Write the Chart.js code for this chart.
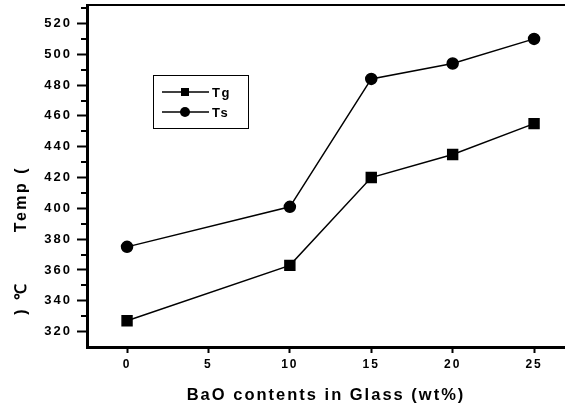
<!DOCTYPE html>
<html>
<head>
<meta charset="utf-8">
<script src="https://cdn.jsdelivr.net/npm/chart.js@4"></script>
<style>
  html, body { margin: 0; padding: 0; background: #fff; overflow: hidden; }
  #wrap { width: 565px; height: 405px; position: relative; }
  #c { display: block; }
</style>
</head>
<body>
<div id="wrap"><canvas id="c"></canvas></div>
<script>
// BaO content (wt%) and temperatures
const baoContent = [0, 10, 15, 20, 25];
const tgValues = [327, 363, 420, 435, 455];
const tsValues = [375, 401, 484, 494, 510];
const seriesLabels = ['Tg', 'Ts'];
const xTitle = 'BaO contents in Glass (wt%)';
const yTitleTop = 'Temp (';
const yTitleBottom = ') ℃';

const FONT = '"Liberation Sans", Arial, sans-serif';

// spaced-out lettering like the scanned figure
const spacing = {
  id: 'spacing',
  beforeDraw(chart) { chart.ctx.letterSpacing = '2px'; }
};

// frame top line, minor y ticks, y title, legend box
const extras = {
  id: 'extras',
  afterDraw(chart) {
    const ctx = chart.ctx;
    const a = chart.chartArea;
    const y = chart.scales.y;
    ctx.save();
    ctx.strokeStyle = '#000';

    ctx.lineWidth = 2;
    ctx.beginPath();
    ctx.moveTo(a.left, a.top);
    ctx.lineTo(a.right, a.top);
    ctx.stroke();

    for (let v = 330; v <= 530; v += 20) {
      const py = Math.round(y.getPixelForValue(v));
      ctx.beginPath();
      ctx.moveTo(a.left - 6, py);
      ctx.lineTo(a.left, py);
      ctx.stroke();
    }

    // y title
    ctx.fillStyle = '#000';
    ctx.font = 'bold 16px ' + FONT;
    ctx.letterSpacing = '2.5px';
    ctx.textBaseline = 'middle';
    ctx.textAlign = 'center';
    ctx.translate(22, 0);
    ctx.rotate(-Math.PI / 2);
    ctx.fillText(yTitleTop, -199, 0);
    ctx.fillText(yTitleBottom, -298, 0);
    ctx.setTransform(1, 0, 0, 1, 0, 0);

    // legend
    ctx.lineWidth = 1;
    ctx.strokeRect(153.5, 75.5, 95, 53);
    const rows = [92, 112];
    chart.data.datasets.forEach((ds, i) => {
      const ry = rows[i];
      ctx.lineWidth = 1.5;
      ctx.beginPath();
      ctx.moveTo(162, ry);
      ctx.lineTo(209, ry);
      ctx.stroke();
      ctx.fillStyle = '#000';
      if (ds.pointStyle === 'rect') {
        ctx.fillRect(181, ry - 4, 8, 8);
      } else {
        ctx.beginPath();
        ctx.arc(185, ry, 5, 0, Math.PI * 2);
        ctx.fill();
      }
      ctx.font = 'bold 13px ' + FONT;
      ctx.letterSpacing = '1.5px';
      ctx.textAlign = 'left';
      ctx.textBaseline = 'middle';
      ctx.fillText(ds.label, 212, ry + 1);
    });
    ctx.restore();
  }
};

new Chart(document.getElementById('c'), {
  type: 'line',
  data: {
    datasets: [
      {
        label: seriesLabels[0],
        data: baoContent.map((x, i) => ({ x: x, y: tgValues[i] })),
        borderColor: '#000',
        backgroundColor: '#000',
        borderWidth: 1.5,
        pointStyle: 'rect',
        pointRadius: 7,
        tension: 0
      },
      {
        label: seriesLabels[1],
        data: baoContent.map((x, i) => ({ x: x, y: tsValues[i] })),
        borderColor: '#000',
        backgroundColor: '#000',
        borderWidth: 1.5,
        pointStyle: 'circle',
        pointRadius: 5.5,
        tension: 0
      }
    ]
  },
  options: {
    responsive: true,
    maintainAspectRatio: false,
    animation: false,
    layout: { autoPadding: false, padding: { top: 5, right: 0, left: 0, bottom: 0 } },
    plugins: {
      legend: { display: false },
      tooltip: { enabled: false }
    },
    scales: {
      x: {
        type: 'linear',
        min: -2.46,
        max: 26.9,
        afterFit(s) { s.height = 58; s.paddingLeft = 0; s.paddingRight = 0; },
        border: { display: true, color: '#000', width: 3 },
        grid: { drawOnChartArea: false, drawTicks: true, tickLength: 6, tickWidth: 2, tickColor: '#000' },
        ticks: {
          stepSize: 5,
          includeBounds: false,
          color: '#000',
          padding: 4,
          maxRotation: 0,
          font: { family: FONT, size: 12, weight: 'bold' }
        },
        title: {
          display: true,
          text: xTitle,
          color: '#000',
          padding: { top: 0, bottom: 0 },
          font: { family: FONT, size: 16.5, weight: 'bold' }
        }
      },
      y: {
        min: 310,
        max: 532,
        afterFit(s) { s.width = 87; s.paddingTop = 0; s.paddingBottom = 0; },
        border: { display: true, color: '#000', width: 3 },
        grid: { drawOnChartArea: false, drawTicks: true, tickLength: 10, tickWidth: 2, tickColor: '#000' },
        ticks: {
          stepSize: 20,
          includeBounds: false,
          color: '#000',
          padding: 5,
          font: { family: FONT, size: 13, weight: 'bold' }
        }
      }
    }
  },
  plugins: [spacing, extras]
});
</script>
</body>
</html>
